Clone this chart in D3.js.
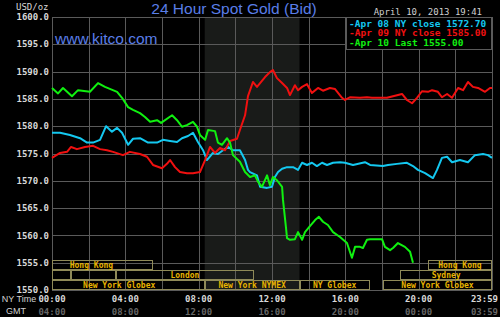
<!DOCTYPE html>
<html>
<head>
<meta charset="utf-8">
<script src="https://cdnjs.cloudflare.com/ajax/libs/d3/7.8.5/d3.min.js"></script>
<style>
body { margin:0; background:#000; }
svg { display:block; }
</style>
</head>
<body>
<svg width="500" height="317"></svg>
<script>
// hours (NY time) -> bid price
var apr08 = [[0,1578.8],[0.44,1578.8],[0.98,1578.4],[1.53,1577.8],[1.91,1577.0],[2.24,1577.0],[2.62,1577.5],[2.95,1580.0],[3.27,1579.0],[3.55,1579.7],[3.82,1578.8],[4.15,1576.6],[4.42,1577.7],[4.8,1577.8],[5.24,1577.0],[5.73,1577.0],[6.05,1577.5],[6.44,1577.3],[6.82,1577.1],[7.09,1577.8],[7.42,1578.2],[7.69,1578.8],[7.96,1577.1],[8.24,1575.6],[8.45,1573.8],[8.78,1575.1],[9.05,1574.9],[9.33,1575.6],[9.6,1576.2],[9.87,1575.6],[10.25,1575.6],[10.53,1573.8],[10.69,1572.0],[10.8,1571.6],[11.18,1571.0],[11.35,1568.9],[11.73,1568.7],[12.0,1568.9],[12.16,1570.7],[12.33,1571.6],[12.55,1572.2],[12.82,1572.5],[13.15,1572.5],[13.42,1572.0],[13.64,1573.3],[13.91,1572.9],[14.18,1573.3],[14.45,1572.7],[14.73,1573.3],[15.0,1572.9],[15.33,1573.3],[15.71,1573.4],[15.98,1573.3],[16.42,1572.9],[17.07,1573.4],[17.35,1572.9],[18.05,1572.7],[18.33,1572.9],[18.82,1573.1],[19.36,1573.3],[19.69,1572.7],[19.96,1572.0],[20.35,1571.4],[20.78,1570.5],[21.0,1572.0],[21.27,1574.2],[21.55,1574.4],[21.82,1573.4],[22.25,1573.8],[22.69,1573.4],[23.07,1574.7],[23.51,1574.9],[23.78,1574.7],[24,1574.2]];
var apr09 = [[0,1574.2],[0.44,1575.1],[0.82,1575.3],[1.04,1576.2],[1.36,1575.8],[1.8,1576.2],[2.24,1576.4],[2.62,1575.8],[3.0,1575.6],[3.33,1575.3],[3.87,1574.7],[4.25,1575.3],[4.8,1574.9],[5.18,1574.4],[5.51,1572.9],[6.0,1572.3],[6.27,1573.1],[6.44,1573.8],[6.71,1572.5],[6.98,1571.6],[7.36,1571.4],[7.69,1571.4],[8.07,1571.6],[8.35,1573.8],[8.62,1576.2],[8.89,1575.1],[9.16,1576.0],[9.44,1575.6],[9.71,1577.3],[10.09,1577.7],[10.25,1579.3],[10.53,1582.0],[10.69,1585.5],[10.96,1588.1],[11.18,1587.2],[11.35,1587.9],[11.62,1589.0],[11.89,1589.9],[12.05,1590.3],[12.27,1588.8],[12.55,1587.9],[12.82,1587.0],[12.98,1585.7],[13.25,1587.5],[13.42,1586.6],[13.64,1587.2],[13.91,1587.7],[14.18,1586.1],[14.51,1587.0],[14.78,1586.5],[15.16,1587.0],[15.44,1586.8],[15.82,1585.2],[15.98,1584.8],[16.25,1585.3],[16.8,1585.2],[17.18,1585.3],[17.45,1585.2],[18.0,1585.2],[18.27,1585.2],[18.6,1585.5],[19.09,1585.9],[19.36,1584.8],[19.64,1584.2],[19.91,1585.2],[20.18,1586.4],[20.51,1586.3],[20.73,1586.6],[21.05,1586.3],[21.27,1585.3],[21.55,1585.9],[21.82,1585.2],[22.15,1587.0],[22.42,1586.6],[22.69,1588.1],[22.96,1587.2],[23.24,1587.0],[23.62,1586.3],[23.89,1587.0],[24,1587.0]];
var apr10 = [[0,1587.0],[0.33,1586.0],[0.6,1587.0],[1.09,1585.5],[1.42,1586.6],[2.07,1586.3],[2.51,1587.9],[2.89,1587.2],[3.55,1586.3],[3.82,1585.2],[4.15,1583.5],[4.42,1583.0],[4.8,1582.4],[5.07,1581.7],[5.35,1580.8],[5.73,1581.1],[5.95,1580.6],[6.55,1582.0],[6.82,1581.1],[7.09,1579.9],[7.36,1580.2],[7.69,1580.8],[7.91,1579.9],[8.07,1578.4],[8.35,1577.5],[8.51,1579.3],[8.89,1579.1],[9.05,1577.0],[9.27,1576.6],[9.55,1577.8],[9.71,1577.0],[9.87,1574.7],[10.25,1573.5],[10.53,1571.6],[10.8,1570.7],[11.07,1571.0],[11.24,1569.8],[11.45,1568.9],[11.73,1571.0],[11.89,1569.2],[12.05,1570.7],[12.27,1570.1],[12.55,1568.9],[12.6,1566.5],[12.76,1561.5],[12.82,1559.5],[12.98,1559.2],[13.25,1559.3],[13.42,1560.6],[13.64,1559.2],[13.8,1560.6],[14.07,1561.7],[14.35,1562.8],[14.56,1563.4],[14.78,1562.5],[15.05,1561.9],[15.33,1560.6],[15.71,1559.7],[16.09,1558.6],[16.36,1555.9],[16.53,1557.9],[16.8,1557.9],[16.96,1557.7],[17.18,1559.2],[17.35,1559.3],[18.0,1559.3],[18.16,1557.9],[18.44,1557.3],[18.6,1557.7],[18.87,1558.6],[19.25,1557.9],[19.53,1557.0],[19.69,1555.0]];

var seriesNames = ["Apr 08 NY close 1572.70", "Apr 09 NY close 1585.00", "Apr 10 Last 1555.00"];
var priceTicks = [1550,1555,1560,1565,1570,1575,1580,1585,1590,1595,1600];
var hourTicks = [0,4,8,12,16,20,24];
var nyLabels = ["00:00","04:00","08:00","12:00","16:00","20:00","23:59"];
var gmtLabels = ["04:00","08:00","12:00","16:00","20:00","00:00","03:59"];
var comexHours = [8.33, 13.5];
var sessions = [
	{row:0, name:"Hong Kong", from:-1.2, to:5.5},
	{row:0, name:"Hong Kong", from:20.5, to:24},
	{row:1, name:"", from:0, to:1.04},
	{row:1, name:"", from:1.04, to:3.5},
	{row:1, name:"London", from:3.5, to:11.0},
	{row:1, name:"Sydney", from:19.0, to:24},
	{row:2, name:"New York Globex", from:-1.0, to:8.33},
	{row:2, name:"New York NYMEX", from:8.33, to:13.5},
	{row:2, name:"NY Globex", from:13.5, to:17.33},
	{row:2, name:"New York Globex", from:18.05, to:24}
];

var colors = ["#14c8f0", "#f01010", "#10f010"];
var mono = "'DejaVu Sans Mono', monospace";
var sans = "'Liberation Sans', Arial, sans-serif";

var svg = d3.select('svg');
var x = d3.scaleLinear().domain([0,24]).range([52,492]);
var y = d3.scaleLinear().domain([1550,1600]).range([290,17]);

// comex shaded band
svg.append('rect')
	.attr('x', x(comexHours[0]))
	.attr('y', y(1600))
	.attr('width', x(comexHours[1]) - x(comexHours[0]))
	.attr('height', y(1550) - y(1600))
	.attr('fill', '#191b19');

// grid
svg.append('g')
	.selectAll('line')
	.data(d3.range(0, 25, 2))
	.enter()
	.append('line')
	.attr('x1', function(d) {return Math.round(x(d)) + 0.5;})
	.attr('x2', function(d) {return Math.round(x(d)) + 0.5;})
	.attr('y1', y(1600))
	.attr('y2', y(1550))
	.style('stroke', '#5a5a5a');

svg.append('g')
	.selectAll('line')
	.data(priceTicks)
	.enter()
	.append('line')
	.attr('x1', x(0))
	.attr('x2', x(24))
	.attr('y1', function(d) {return Math.round(y(d)) + 0.5;})
	.attr('y2', function(d) {return Math.round(y(d)) + 0.5;})
	.style('stroke', '#5a5a5a');

// y labels
svg.append('g')
	.selectAll('text')
	.data(priceTicks)
	.enter()
	.append('text')
	.attr('x', 49)
	.attr('y', function(d) {return y(d);})
	.attr('dy', '0.35em')
	.attr('text-anchor', 'end')
	.style('font', 'bold 9px ' + mono)
	.style('fill', '#d8d8d8')
	.text(function(d) {return d.toFixed(1);});

svg.append('text')
	.attr('x', 16).attr('y', 9.5)
	.style('font', '9px ' + mono)
	.style('fill', '#d8d8d8')
	.text('USD/oz');

// sessions
var rowTop = [260, 270, 280];
var sg = svg.append('g')
	.selectAll('g')
	.data(sessions)
	.enter()
	.append('g');

sg.append('rect')
	.attr('x', function(d) {return Math.round(x(Math.max(d.from, 0))) + 0.5;})
	.attr('y', function(d) {return rowTop[d.row] + 0.5;})
	.attr('width', function(d) {return Math.round(x(d.to) - x(Math.max(d.from, 0))) - 1;})
	.attr('height', 9)
	.attr('fill', 'none')
	.style('stroke', '#8f8a58');

sg.append('text')
	.attr('x', function(d) {return x((d.from + d.to) / 2);})
	.attr('y', function(d) {return rowTop[d.row] + 5;})
	.attr('dy', '0.35em')
	.attr('text-anchor', 'middle')
	.style('font', 'bold 8px ' + mono)
	.style('fill', '#e8b400')
	.text(function(d) {return d.name;});

// price lines
var line = d3.line()
	.x(function(d) {return x(d[0]);})
	.y(function(d) {return y(d[1]);});

svg.append('g')
	.selectAll('path')
	.data([apr08, apr09, apr10])
	.enter()
	.append('path')
	.attr('d', line)
	.attr('fill', 'none')
	.style('stroke', function(d, i) {return colors[i];})
	.style('stroke-width', 2)
	.style('stroke-linejoin', 'round');

// x labels
svg.append('g')
	.selectAll('text')
	.data(hourTicks)
	.enter()
	.append('text')
	.attr('x', function(d) {return x(d) + (d == 24 ? 6 : 0);})
	.attr('y', 299)
	.attr('dy', '0.35em')
	.attr('text-anchor', function(d) {return d == 24 ? 'end' : 'middle';})
	.style('font', 'bold 9px ' + mono)
	.style('fill', '#d8d8d8')
	.text(function(d, i) {return nyLabels[i];});

svg.append('g')
	.selectAll('text')
	.data(hourTicks)
	.enter()
	.append('text')
	.attr('x', function(d) {return x(d) + (d == 24 ? 6 : 0);})
	.attr('y', 312)
	.attr('dy', '0.35em')
	.attr('text-anchor', function(d) {return d == 24 ? 'end' : 'middle';})
	.style('font', 'bold 9px ' + mono)
	.style('fill', '#666')
	.text(function(d, i) {return gmtLabels[i];});

svg.append('text').attr('x', 19).attr('y', 299).attr('dy', '0.35em')
	.attr('text-anchor', 'middle')
	.style('font', '9px ' + sans).style('fill', '#d0d0d0')
	.text('NY Time');
svg.append('text').attr('x', 16).attr('y', 311).attr('dy', '0.35em')
	.attr('text-anchor', 'middle')
	.style('font', '9px ' + sans).style('fill', '#d0d0d0')
	.text('GMT');

// titles
svg.append('text')
	.attr('x', 234).attr('y', 14)
	.attr('text-anchor', 'middle')
	.style('font', '15.5px ' + sans)
	.style('fill', '#5a7ee8')
	.text('24 Hour Spot Gold (Bid)');

svg.append('text')
	.attr('x', 55).attr('y', 44)
	.style('font', '15.5px ' + sans)
	.style('fill', '#5a7ee8')
	.text('www.kitco.com');

svg.append('text')
	.attr('x', 482).attr('y', 12)
	.attr('dy', '0.35em')
	.attr('text-anchor', 'end')
	.style('font', '9px ' + mono)
	.style('fill', '#d0d0d0')
	.text('April 10, 2013 19:41');

// legend
svg.append('rect')
	.attr('x', 346.5).attr('y', 17.5)
	.attr('width', 145).attr('height', 32)
	.attr('fill', '#000')
	.style('stroke', '#5a5a5a');

svg.append('g')
	.selectAll('text')
	.data(seriesNames)
	.enter()
	.append('text')
	.attr('x', 349)
	.attr('y', function(d, i) {return 23.5 + i * 9.5;})
	.attr('dy', '0.35em')
	.style('font', 'bold 9.5px ' + mono)
	.style('fill', function(d, i) {return colors[i];})
	.text(function(d) {return '-' + d;});
</script>
</body>
</html>
